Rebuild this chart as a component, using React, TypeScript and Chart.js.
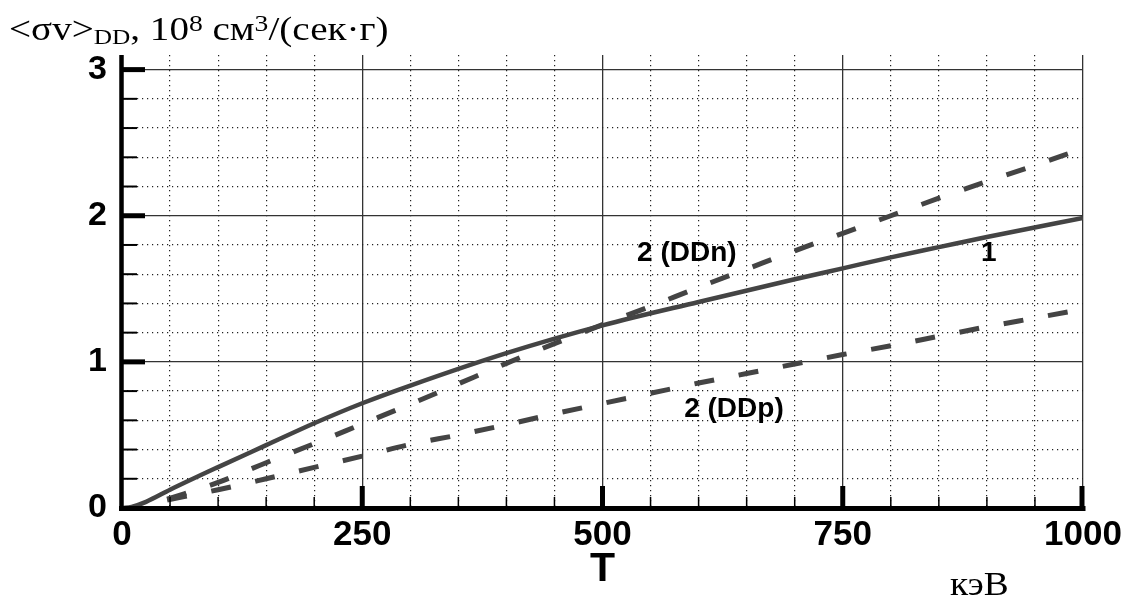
import React, { useEffect, useRef } from "react";
import { Chart, registerables } from "chart.js";

Chart.register(...registerables);

// ---- data ----
const temperatureTotal = [0, 10, 25, 50, 100, 150, 200, 250, 300, 400, 500, 600, 700, 750, 800, 850, 900, 1000];
const rateTotal = [0, 0.008, 0.042, 0.125, 0.28, 0.43, 0.58, 0.717, 0.838, 1.06, 1.25, 1.41, 1.565, 1.64, 1.715, 1.785, 1.855, 1.985];

const temperatureBranch = [47, 100, 150, 200, 250, 300, 350, 400, 450, 500, 550, 600, 650, 700, 750, 800, 850, 900, 950, 1000];
const rateDDn = [0.06, 0.175, 0.31, 0.44, 0.575, 0.71, 0.85, 0.99, 1.125, 1.255, 1.38, 1.51, 1.635, 1.76, 1.88, 2.0, 2.12, 2.235, 2.345, 2.46];
const rateDDp = [0.055, 0.125, 0.2, 0.278, 0.355, 0.435, 0.5, 0.57, 0.645, 0.715, 0.785, 0.855, 0.92, 0.985, 1.05, 1.11, 1.175, 1.24, 1.3, 1.36];

const xMajorStep = 250;
const xMinorStep = 50;
const yMajorStep = 1;
const yMinorStep = 0.2;
const xMin = 0;
const xMax = 1000;
const yMin = 0;
const yMax = 3.1;

const curveLabels = ["2 (DDn)", "1", "2 (DDp)"];
const curveLabelT = [536, 902, 585];
const curveLabelV = [1.69, 1.69, 0.625];
const curveLabelAlign: CanvasTextAlign[] = ["left", "center", "left"];

const SANS = '"Liberation Sans", Arial, Helvetica, sans-serif';
const SERIF = '"Liberation Serif", "Times New Roman", Times, serif';
const INK = "#444444";

const isMultiple = (v: number, step: number) => {
  const q = v / step;
  return Math.abs(q - Math.round(q)) < 1e-6;
};

const axesPlugin = {
  id: "axesPlugin",
  afterDatasetsDraw(chart: any) {
    const { ctx, chartArea } = chart;
    const x = chart.scales.x;
    const x2 = chart.scales.x2;
    const y = chart.scales.y;
    const y2 = chart.scales.y2;
    const left = chartArea.left;
    const bottom = chartArea.bottom;
    ctx.save();
    ctx.strokeStyle = "#000";
    ctx.lineCap = "butt";

    // minor x ticks (inward)
    ctx.lineWidth = 1.5;
    x2.ticks.forEach((t: any) => {
      if (t.value === xMin || isMultiple(t.value, xMajorStep)) return;
      const px = x2.getPixelForValue(t.value);
      ctx.beginPath();
      ctx.moveTo(px, bottom);
      ctx.lineTo(px, bottom - 11);
      ctx.stroke();
    });
    // major x ticks
    ctx.lineWidth = 5;
    x.ticks.forEach((t: any) => {
      if (t.value === xMin) return;
      let px = x.getPixelForValue(t.value);
      if (t.value === xMax) px -= 1;
      ctx.beginPath();
      ctx.moveTo(px, bottom);
      ctx.lineTo(px, bottom - 22);
      ctx.stroke();
    });
    // minor y ticks
    ctx.lineWidth = 2;
    y2.ticks.forEach((t: any) => {
      if (t.value <= yMin || isMultiple(t.value, yMajorStep)) return;
      const py = y2.getPixelForValue(t.value);
      ctx.beginPath();
      ctx.moveTo(left, py);
      ctx.lineTo(left + 15, py);
      ctx.stroke();
    });
    // major y ticks
    ctx.lineWidth = 5;
    y.ticks.forEach((t: any) => {
      if (t.value <= yMin) return;
      const py = y.getPixelForValue(t.value);
      ctx.beginPath();
      ctx.moveTo(left, py);
      ctx.lineTo(left + 23, py);
      ctx.stroke();
    });

    // axis lines
    ctx.lineWidth = 4.5;
    ctx.beginPath();
    ctx.moveTo(left - 0.5, chartArea.top);
    ctx.lineTo(left - 0.5, bottom + 3);
    ctx.stroke();
    ctx.lineWidth = 5;
    ctx.beginPath();
    ctx.moveTo(left - 3, bottom + 0.5);
    ctx.lineTo(chartArea.right + 2.5, bottom + 0.5);
    ctx.stroke();

    // curve labels
    ctx.fillStyle = "#000";
    ctx.font = `bold 28px ${SANS}`;
    ctx.textBaseline = "alphabetic";
    curveLabels.forEach((txt, i) => {
      ctx.textAlign = curveLabelAlign[i];
      ctx.fillText(txt, x.getPixelForValue(curveLabelT[i]), y.getPixelForValue(curveLabelV[i]));
    });
    ctx.restore();
  },
};

export default function App() {
  const ref = useRef<HTMLCanvasElement | null>(null);

  useEffect(() => {
    document.body.style.margin = "0";
    const canvas = ref.current;
    if (!canvas) return;
    const pts = (xs: number[], ys: number[]) => xs.map((t, i) => ({ x: t, y: ys[i] }));
    const chart = new Chart(canvas, {
      type: "line",
      data: {
        datasets: [
          {
            label: "1",
            data: pts(temperatureTotal, rateTotal),
            borderColor: INK,
            borderWidth: 4.5,
            pointRadius: 0,
            cubicInterpolationMode: "monotone",
            fill: false,
          },
          {
            label: "2 (DDn)",
            data: pts(temperatureBranch, rateDDn),
            borderColor: INK,
            borderWidth: 5,
            borderDash: [20, 25],
            borderCapStyle: "butt",
            pointRadius: 0,
            cubicInterpolationMode: "monotone",
            fill: false,
          },
          {
            label: "2 (DDp)",
            data: pts(temperatureBranch, rateDDp),
            borderColor: INK,
            borderWidth: 5,
            borderDash: [20, 25],
            borderCapStyle: "butt",
            pointRadius: 0,
            cubicInterpolationMode: "monotone",
            fill: false,
          },
        ],
      },
      options: {
        animation: false,
        responsive: false,
        maintainAspectRatio: false,
        layout: { padding: { left: 0, right: 51, top: 55, bottom: 0 } },
        plugins: { legend: { display: false }, tooltip: { enabled: false }, title: { display: false } },
        scales: {
          x: {
            type: "linear",
            position: "bottom",
            min: xMin,
            max: xMax,
            ticks: {
              stepSize: xMajorStep,
              padding: 6,
              color: "#000",
              maxRotation: 0,
              autoSkip: false,
              font: { family: SANS, size: 35, weight: "bold" },
              callback: (v: any) => String(v),
            },
            grid: {
              drawTicks: false,
              lineWidth: 1.3,
              color: (c: any) => (c.tick && c.tick.value === xMin ? "rgba(0,0,0,0)" : "#333"),
            },
            border: { display: false },
            title: {
              display: true,
              text: "T",
              color: "#000",
              font: { family: SANS, size: 41, weight: "bold" },
              padding: { top: 0, bottom: 7 },
            },
            afterFit: (s: any) => {
              s.height = 93;
            },
          },
          x2: {
            type: "linear",
            position: "bottom",
            min: xMin,
            max: xMax,
            ticks: { stepSize: xMinorStep, display: false },
            grid: {
              drawTicks: false,
              lineWidth: 1.2,
              color: (c: any) =>
                c.tick && (c.tick.value === xMin || isMultiple(c.tick.value, xMajorStep)) ? "rgba(0,0,0,0)" : "#222",
            },
            border: { display: false, dash: [1.2, 3.8] },
            afterFit: (s: any) => {
              s.height = 0;
            },
          },
          y: {
            type: "linear",
            position: "left",
            min: yMin,
            max: yMax,
            ticks: {
              stepSize: yMajorStep,
              includeBounds: false,
              padding: 15,
              color: "#000",
              font: { family: SANS, size: 34, weight: "bold" },
              callback: (v: any) => String(v),
            },
            grid: {
              drawTicks: false,
              lineWidth: 1.3,
              color: (c: any) => (c.tick && c.tick.value <= yMin ? "rgba(0,0,0,0)" : "#333"),
            },
            border: { display: false },
            afterFit: (s: any) => {
              s.width = 122;
            },
          },
          y2: {
            type: "linear",
            position: "left",
            min: yMin,
            max: yMax,
            ticks: { stepSize: yMinorStep, includeBounds: false, display: false },
            grid: {
              drawTicks: false,
              lineWidth: 1.2,
              color: (c: any) =>
                c.tick && (c.tick.value <= yMin || isMultiple(c.tick.value, yMajorStep)) ? "rgba(0,0,0,0)" : "#222",
            },
            border: { display: false, dash: [1.2, 3.8] },
            afterFit: (s: any) => {
              s.width = 0;
            },
          },
        },
      } as any,
      plugins: [axesPlugin],
    });
    return () => chart.destroy();
  }, []);

  return (
    <div style={{ position: "fixed", left: 0, top: 0, width: 1134, height: 601, background: "#fff", overflow: "hidden" }}>
      <canvas ref={ref} width={1134} height={601} style={{ position: "absolute", left: 0, top: 0, width: 1134, height: 601 }} />
      <div
        style={{
          position: "absolute",
          left: 9,
          top: 12,
          fontFamily: SERIF,
          fontSize: 34,
          lineHeight: "34px",
          whiteSpace: "nowrap",
          color: "#000",
          transform: "scaleX(1.15)",
          transformOrigin: "left top",
        }}
      >
        &lt;σv&gt;
        <span style={{ fontSize: 22, position: "relative", top: 4 }}>DD</span>, 10
        <span style={{ fontSize: 24, position: "relative", top: -9 }}>8</span> см
        <span style={{ fontSize: 24, position: "relative", top: -9 }}>3</span>/(сек·г)
      </div>
      <div
        style={{
          position: "absolute",
          left: 950,
          top: 567,
          fontFamily: SERIF,
          fontSize: 34,
          lineHeight: "34px",
          whiteSpace: "nowrap",
          color: "#000",
          transform: "scaleX(1.1)",
          transformOrigin: "left top",
        }}
      >
        кэВ
      </div>
    </div>
  );
}
